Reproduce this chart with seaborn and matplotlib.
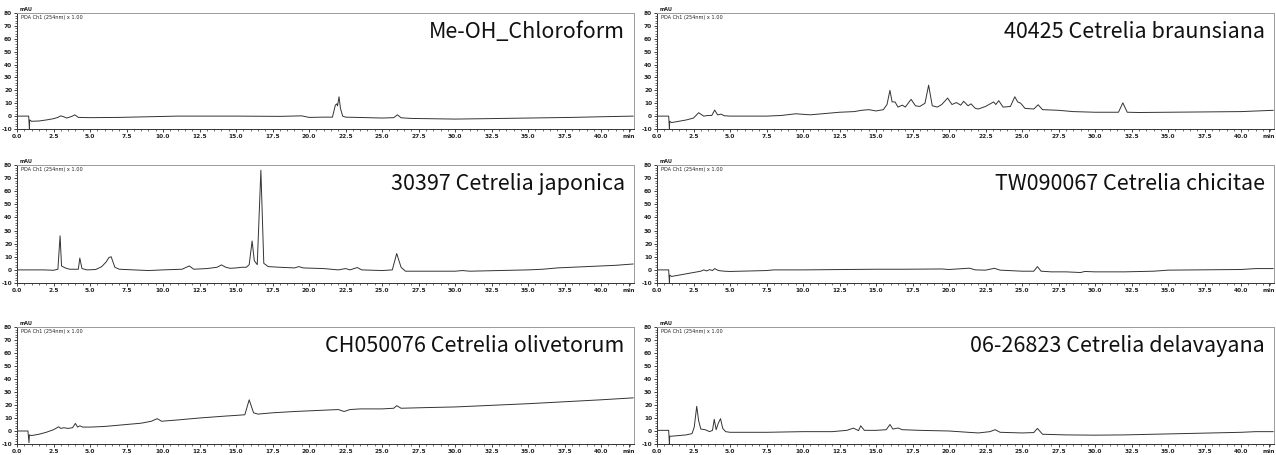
import numpy as np
import pandas as pd
import matplotlib
matplotlib.use("Agg")
import matplotlib.pyplot as plt
import seaborn as sns
from matplotlib.ticker import FixedLocator, MultipleLocator

# ---------------- data ----------------
titles = ["Me-OH_Chloroform", "40425 Cetrelia braunsiana",
          "30397 Cetrelia japonica", "TW090067 Cetrelia chicitae",
          "CH050076 Cetrelia olivetorum", "06-26823 Cetrelia delavayana"]

chloroform_t = [0.0, 0.8, 0.85, 0.87, 1.0, 1.5, 2.0, 2.5, 2.8, 3.0, 3.2, 3.4, 3.6, 3.8, 3.95, 4.2,
                5.0, 7.0, 9.0, 11.0, 15.0, 18.0, 19.5, 20.0, 21.0, 21.6, 21.8, 21.9, 21.95, 22.05,
                22.15, 22.3, 22.5, 24.0, 25.0, 25.8, 26.05, 26.3, 27.0, 30.0, 32.0, 35.0, 38.0, 40.0, 42.2]
chloroform_mau = [0.0, 0.0, -10.0, -3.0, -4.0, -3.8, -3.0, -2.0, -1.0, 0.2, -0.5, -1.5, -0.8, 0.0, 1.0, -1.0,
                  -1.2, -1.0, -0.5, 0.0, 0.0, -0.2, 0.2, -1.0, -0.8, -0.8, 8.5, 9.5, 8.0, 15.0,
                  6.0, 0.0, -0.8, -1.2, -1.5, -1.2, 1.0, -1.3, -1.8, -2.3, -2.0, -1.5, -1.0, -0.5, 0.0]

braunsiana_t = [0.0, 0.8, 0.85, 0.87, 1.0, 2.0, 2.5, 2.85, 3.2, 3.5, 3.75, 3.95, 4.15, 4.4, 4.6, 5.0,
                7.5, 8.5, 9.5, 10.5, 11.0, 12.5, 13.5, 14.0, 14.5, 15.0, 15.5, 15.75, 15.95, 16.1,
                16.3, 16.5, 16.8, 17.0, 17.4, 17.7, 18.0, 18.35, 18.6, 18.85, 19.2, 19.5, 19.9, 20.2,
                20.5, 20.8, 21.0, 21.3, 21.5, 21.8, 22.0, 22.5, 23.05, 23.2, 23.4, 23.7, 24.2, 24.5,
                24.7, 24.9, 25.2, 25.8, 26.1, 26.4, 27.5, 28.5, 30.0, 31.6, 31.9, 32.2, 33.0, 35.0,
                40.0, 42.2]
braunsiana_mau = [0.0, 0.0, -10.0, -4.0, -5.0, -3.0, -1.5, 2.6, 0.0, 0.5, 0.5, 4.7, 1.0, 1.5, 0.3, 0.0,
                  0.0, 0.5, 1.8, 1.0, 1.5, 3.0, 3.5, 4.5, 5.0, 4.0, 5.0, 9.0, 20.0, 11.0,
                  11.0, 7.0, 8.5, 7.0, 13.0, 8.0, 7.5, 10.0, 24.0, 8.0, 7.0, 9.0, 14.0, 9.0,
                  10.5, 8.5, 11.5, 8.0, 9.5, 6.0, 5.5, 7.5, 11.0, 9.0, 12.0, 7.0, 7.5, 15.0,
                  11.0, 10.0, 6.0, 5.5, 8.8, 5.0, 4.5, 3.5, 3.0, 3.0, 10.3, 3.0, 2.8, 3.0,
                  3.5, 4.5]

japonica_t = [0.0, 1.8, 2.5, 2.8, 2.95, 3.05, 3.3, 3.6, 4.2, 4.3, 4.45, 4.8, 5.4, 5.8, 6.1, 6.3,
              6.45, 6.7, 7.0, 8.0, 9.0, 10.0, 11.3, 11.8, 12.1, 13.0, 13.7, 14.0, 14.3, 14.6, 15.0,
              15.4, 15.7, 15.9, 16.1, 16.25, 16.45, 16.7, 16.9, 17.2, 18.0, 19.0, 19.3, 19.6, 21.0,
              22.0, 22.5, 22.8, 23.3, 23.6, 25.0, 25.7, 26.0, 26.3, 26.6, 28.0, 30.0, 30.5, 31.0,
              33.0, 35.0, 36.0, 37.0, 38.0, 40.0, 41.0, 42.2]
japonica_mau = [0.0, 0.0, -0.3, 0.5, 26.0, 3.0, 1.5, 0.5, 0.5, 9.0, 1.0, 0.0, 0.3, 2.5, 6.0, 9.5,
                10.0, 2.0, 0.5, 0.0, -0.5, 0.0, 0.5, 3.0, 0.5, 1.0, 2.0, 3.8, 2.0, 1.2, 1.5,
                2.0, 2.0, 4.0, 22.0, 7.0, 4.0, 76.0, 5.0, 2.5, 2.0, 1.5, 2.5, 1.5, 1.0,
                0.0, 1.0, 0.0, 1.8, 0.0, -0.5, 0.0, 12.5, 2.0, -1.0, -1.0, -1.0, -0.5, -1.0,
                -0.5, 0.0, 0.5, 1.5, 2.0, 3.0, 3.5, 4.5]

chicitae_t = [0.0, 0.8, 0.85, 0.87, 1.0, 2.0, 2.5, 3.0, 3.2, 3.4, 3.6, 3.8, 3.95, 4.2, 4.6, 5.0,
              7.5, 8.0, 10.0, 15.0, 17.0, 19.5, 20.0, 21.4, 21.8, 22.5, 23.1, 23.5, 25.0, 25.8,
              26.05, 26.3, 27.0, 28.0, 29.0, 29.3, 30.0, 32.0, 34.0, 35.0, 37.0, 40.0, 41.0, 42.2]
chicitae_mau = [0.0, 0.0, -10.0, -4.0, -5.0, -3.0, -2.0, -1.0, 0.0, -0.8, 0.2, -0.5, 1.0, -0.5, -1.0, -1.2,
                -0.5, 0.0, 0.0, 0.5, 0.5, 0.7, 0.3, 1.3, 0.0, -0.2, 1.2, -0.2, -1.0, -1.0,
                2.5, -1.0, -1.5, -1.5, -2.0, -1.2, -1.5, -1.5, -1.0, -0.2, 0.0, 0.3, 1.0, 1.0]

olivetorum_t = [0.0, 0.75, 0.82, 0.85, 1.0, 1.5, 2.0, 2.5, 2.85, 3.0, 3.2, 3.5, 3.8, 4.0, 4.15, 4.3,
                4.5, 5.0, 6.0, 7.5, 8.5, 9.2, 9.6, 9.9, 11.0, 12.5, 14.3, 15.0, 15.6, 15.9, 16.2,
                16.5, 17.5, 19.0, 20.0, 22.0, 22.4, 22.8, 23.5, 25.0, 25.8, 26.0, 26.3, 28.0, 30.0,
                32.0, 35.0, 37.5, 40.0, 42.2]
olivetorum_mau = [0.0, 0.0, -9.0, -3.0, -3.5, -2.5, -1.0, 1.0, 3.2, 2.0, 2.5, 2.0, 2.5, 5.8, 3.0, 4.0,
                  3.0, 3.0, 3.5, 5.0, 6.0, 7.5, 9.5, 7.5, 8.5, 10.0, 11.5, 12.0, 12.5, 24.0, 14.0,
                  13.0, 14.0, 15.0, 15.5, 16.5, 15.0, 16.5, 17.0, 17.0, 17.5, 19.5, 17.5, 18.0, 18.5,
                  19.5, 21.0, 22.5, 24.0, 25.5]

delavayana_t = [0.0, 0.8, 0.85, 0.87, 1.0, 1.5, 2.0, 2.4, 2.55, 2.72, 2.85, 3.0, 3.3, 3.6, 3.8, 3.92,
                4.05, 4.2, 4.35, 4.5, 4.7, 5.0, 7.5, 10.0, 12.0, 13.0, 13.45, 13.8, 13.95, 14.2, 15.0,
                15.7, 15.95, 16.15, 16.5, 16.8, 18.0, 20.0, 21.3, 22.0, 22.8, 23.15, 23.5, 25.0, 25.8,
                26.05, 26.4, 28.0, 30.0, 32.0, 34.0, 36.0, 38.0, 40.0, 41.0, 42.2]
delavayana_mau = [0.5, 0.5, -10.0, -4.0, -4.0, -3.5, -3.0, -2.0, 3.0, 19.0, 8.0, 1.5, 1.0, -0.5, 0.5, 9.0,
                  1.0, 6.0, 9.5, 2.0, -0.5, -1.0, -1.0, -0.5, -0.5, 0.5, 2.2, 0.3, 4.0, 0.5, 0.5,
                  1.0, 5.0, 1.5, 2.3, 1.0, 0.5, 0.0, -1.0, -1.5, -0.5, 1.0, -1.0, -1.5, -1.2,
                  2.0, -2.5, -3.0, -3.2, -3.0, -2.5, -2.0, -1.5, -1.0, -0.5, -0.5]

x_ticks = [0.0, 2.5, 5.0, 7.5, 10.0, 12.5, 15.0, 17.5, 20.0, 22.5, 25.0, 27.5, 30.0, 32.5, 35.0, 37.5, 40.0]
y_ticks = [-10, 0, 10, 20, 30, 40, 50, 60, 70, 80]

series = [(chloroform_t, chloroform_mau), (braunsiana_t, braunsiana_mau),
          (japonica_t, japonica_mau), (chicitae_t, chicitae_mau),
          (olivetorum_t, olivetorum_mau), (delavayana_t, delavayana_mau)]

# ---------------- figure ----------------
sns.set_theme(style="ticks")
plt.rcParams['font.family'] = ['DejaVu Sans']

W, H = 1276, 455
fig = plt.figure(figsize=(W / 100, H / 100), dpi=100)

col_left = [17, 657]
ax_w = 617
row_top = [13, 165, 327]
ax_h = [116, 118, 117]

line_col = "#333333"
for i, (title, (t, v)) in enumerate(zip(titles, series)):
    r, c = divmod(i, 2)
    x0 = col_left[c] / W
    y0 = 1 - (row_top[r] + ax_h[r]) / H
    ax = fig.add_axes([x0, y0, ax_w / W, ax_h[r] / H])
    df = pd.DataFrame({"time": t, "mAU": v})
    sns.lineplot(data=df, x="time", y="mAU", ax=ax, color=line_col, lw=0.7,
                 estimator=None, sort=False)
    ax.set_xlim(0, 42.25)
    ax.set_ylim(-10, 80)
    ax.set_xlabel("")
    ax.set_ylabel("")
    ax.xaxis.set_major_locator(FixedLocator(x_ticks + [41.9]))
    ax.set_xticklabels([f"{x:.1f}" for x in x_ticks] + ["min"])
    ax.yaxis.set_major_locator(FixedLocator(y_ticks))
    ax.set_yticklabels([str(y) for y in y_ticks])
    ax.xaxis.set_minor_locator(MultipleLocator(0.5))
    ax.yaxis.set_minor_locator(MultipleLocator(2))
    ax.tick_params(axis="both", which="major", length=2.5, width=0.6, pad=1.0,
                   labelsize=4.2, colors="#222222")
    ax.tick_params(axis="both", which="minor", length=1.3, width=0.5, colors="#333333")
    for lab in ax.get_xticklabels() + ax.get_yticklabels():
        lab.set_fontweight("bold")
    for side in ["left", "bottom"]:
        ax.spines[side].set_color("#333333")
        ax.spines[side].set_linewidth(0.7)
    for side in ["top", "right"]:
        ax.spines[side].set_visible(True)
        ax.spines[side].set_color("#9a9a9a")
        ax.spines[side].set_linewidth(0.7)
    ax.text(0.985, 0.785, title, transform=ax.transAxes, ha="right", va="baseline",
            fontsize=15.5, color="#111111", family=["Noto Sans CJK KR", "DejaVu Sans"])
    ax.text(0.004, 1.005, "mAU", transform=ax.transAxes, ha="left", va="bottom",
            fontsize=3.6, color="#222222", fontweight="bold")
    ax.text(0.006, 0.985, "PDA Ch1 (254nm) x 1.00", transform=ax.transAxes, ha="left", va="top",
            fontsize=3.6, color="#222222")

fig.savefig("out.png", dpi=100)
